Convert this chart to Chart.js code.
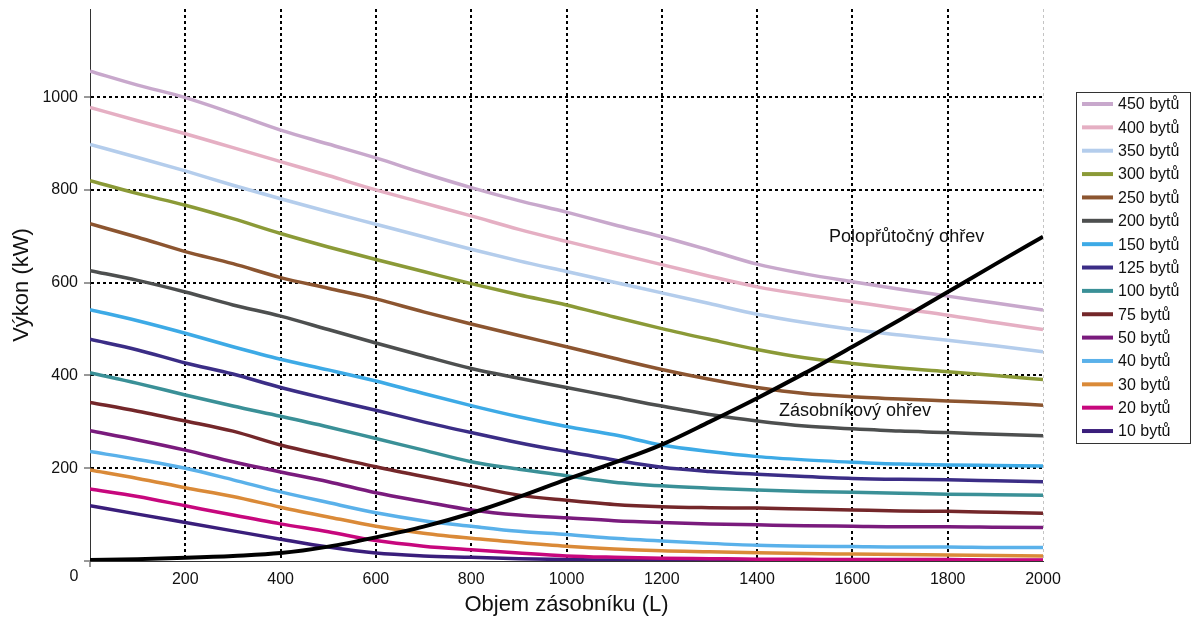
<!DOCTYPE html>
<html>
<head>
<meta charset="utf-8">
<title>Výkon vs objem zásobníku</title>
<script src="https://cdn.jsdelivr.net/npm/chart.js@4/dist/chart.umd.min.js"></script>
<style>
    html, body { margin: 0; padding: 0; background: #fff; }
    #chart { display: block; }
</style>
</head>
<body>
<canvas id="chart" width="1191" height="619"></canvas>
<script>
// objem zásobníku (L)
const volumes = [0, 100, 200, 300, 400, 500, 600, 700, 800, 900, 1000, 1100, 1200, 1300, 1400, 1500, 1600, 1700, 1800, 1900, 2000];
const xTicks = [0, 200, 400, 600, 800, 1000, 1200, 1400, 1600, 1800, 2000];
const yTicks = [0, 200, 400, 600, 800, 1000];

// výkon (kW) for each number of flats
const s450 = [1056, 1026, 999, 965, 929, 899, 869, 836, 805, 777, 752, 725, 699, 670, 640, 619, 602, 586, 571, 556, 541];
const s400 = [978, 949, 921, 891, 861, 831, 800, 772, 744, 715, 689, 664, 639, 614, 591, 574, 559, 544, 530, 514, 499];
const s350 = [898, 870, 841, 810, 781, 753, 726, 699, 672, 647, 624, 601, 578, 555, 532, 514, 499, 487, 476, 464, 451];
const s300 = [820, 792, 767, 738, 706, 677, 650, 624, 598, 574, 552, 526, 501, 478, 456, 438, 426, 416, 408, 400, 391];
const s250 = [727, 698, 667, 641, 611, 588, 565, 537, 511, 486, 462, 437, 413, 392, 374, 361, 354, 349, 345, 341, 336];
const s200 = [626, 605, 580, 552, 528, 499, 470, 442, 415, 394, 374, 354, 334, 316, 302, 291, 285, 280, 277, 273, 270];
const s150 = [542, 518, 491, 462, 435, 412, 388, 361, 335, 311, 290, 272, 250, 236, 225, 218, 213, 209, 207, 206, 205];
const s125 = [478, 455, 427, 403, 374, 349, 325, 300, 277, 255, 236, 218, 202, 193, 187, 182, 178, 176, 175, 173, 171];
const s100 = [406, 383, 358, 334, 312, 289, 264, 239, 214, 198, 184, 170, 162, 157, 153, 150, 148, 146, 144, 143, 142];
const s75 = [342, 323, 302, 280, 250, 226, 203, 182, 162, 142, 131, 122, 117, 115, 114, 112, 110, 108, 107, 105, 103];
const s50 = [281, 261, 239, 214, 192, 171, 147, 128, 110, 99, 93, 87, 83, 80, 78, 76, 75, 74, 74, 73, 72];
const s40 = [236, 219, 200, 175, 149, 126, 104, 87, 75, 64, 57, 49, 43, 38, 34, 32, 31, 30, 30, 29, 29];
const s30 = [196, 178, 158, 139, 116, 95, 75, 60, 49, 40, 32, 26, 22, 20, 18, 16, 15, 14, 13, 12, 11];
const s20 = [155, 139, 119, 99, 80, 63, 44, 32, 24, 17, 11, 8, 6, 5, 4, 4, 3, 3, 3, 2, 2];
const s10 = [119, 101, 83, 65, 47, 30, 17, 11, 8, 5, 3, 2, 1, 1, 1, 1, 1, 1, 1, 1, 1];
// black curve (point where the two heating modes meet)
const boundary = [2, 4, 7, 11, 17, 31, 51, 74, 103, 138, 176, 212, 251, 300, 351, 405, 462, 520, 580, 640, 699];

const seriesLabels = ['450 bytů', '400 bytů', '350 bytů', '300 bytů', '250 bytů', '200 bytů', '150 bytů', '125 bytů',
    '100 bytů', '75 bytů', '50 bytů', '40 bytů', '30 bytů', '20 bytů', '10 bytů'];
const seriesValues = [s450, s400, s350, s300, s250, s200, s150, s125, s100, s75, s50, s40, s30, s20, s10];
const seriesColors = ['#c8a8cc', '#e5afc3', '#b4cdec', '#8b9a37', '#8c5530', '#4d4f4f', '#3daae6', '#3b2d86',
    '#3a9097', '#74272a', '#7a1b7d', '#5ab1ea', '#da8a38', '#c7077d', '#3a1e7b'];

const notes = [
    { text: 'Polopřůtočný ohřev', x: 1551, y: 698 },
    { text: 'Zásobníkový ohřev', x: 1446, y: 323 },
];

const FONT = 'Liberation Sans, Arial, sans-serif';

const toPoints = (vals) => vals.map((v, i) => ({ x: volumes[i], y: v }));

const datasets = [{
    label: 'hranice',
    data: toPoints(boundary),
    borderColor: '#000',
    borderWidth: 4,
    pointRadius: 0,
    cubicInterpolationMode: 'monotone',
}];
seriesLabels.forEach((label, i) => {
    datasets.push({
        label,
        data: toPoints(seriesValues[i]),
        borderColor: seriesColors[i],
        borderWidth: 3.5,
        pointRadius: 0,
        cubicInterpolationMode: 'monotone',
    });
});

// legend box, notes and the lone "0" under the corner
const extras = {
    id: 'extras',
    afterDraw(chart) {
        const { ctx, scales } = chart;
        ctx.save();

        ctx.font = '16px ' + FONT;
        ctx.fillStyle = '#111';
        ctx.textBaseline = 'middle';
        ctx.textAlign = 'center';
        ctx.fillText('0', scales.x.left - 16, 577);

        ctx.font = '18px ' + FONT;
        ctx.textAlign = 'left';
        notes.forEach(n => {
            ctx.fillText(n.text, scales.x.getPixelForValue(n.x), scales.y.getPixelForValue(n.y));
        });

        const lx = 1076, ly = 92, lw = 114, lh = 351;
        ctx.strokeStyle = '#333';
        ctx.lineWidth = 1;
        ctx.strokeRect(lx + 0.5, ly + 0.5, lw, lh);
        ctx.font = '16px ' + FONT;
        seriesLabels.forEach((label, i) => {
            const y = 104 + i * 23.36;
            ctx.strokeStyle = seriesColors[i];
            ctx.lineWidth = 4;
            ctx.beginPath();
            ctx.moveTo(1082, y);
            ctx.lineTo(1113, y);
            ctx.stroke();
            ctx.fillStyle = '#111';
            ctx.fillText(label, 1118, y + 1);
        });
        ctx.restore();
    },
};

new Chart(document.getElementById('chart'), {
    type: 'line',
    data: { datasets },
    options: {
        responsive: false,
        animation: false,
        devicePixelRatio: 1,
        layout: { padding: { top: 9, right: 148, left: 0, bottom: 0 } },
        plugins: { legend: { display: false }, tooltip: { enabled: false } },
        scales: {
            x: {
                type: 'linear',
                min: 0,
                max: 2000,
                afterBuildTicks: (scale) => { scale.ticks = xTicks.map(v => ({ value: v })); },
                afterFit: (scale) => { scale.height = 58; },
                border: { display: true, color: '#333', width: 1, dash: [3, 3] },
                grid: {
                    color: (c) => c.tick.value === 0 ? 'rgba(0,0,0,0)' : (c.tick.value === 2000 ? '#c4c4c4' : '#000'),
                    lineWidth: (c) => c.tick.value === 2000 ? 1 : 2,
                    tickLength: 6,
                    tickColor: (c) => c.tick.value === 0 ? '#333' : 'rgba(0,0,0,0)',
                    tickBorderDash: [],
                    tickWidth: 1,
                },
                ticks: {
                    color: '#111',
                    padding: 3,
                    maxRotation: 0,
                    font: { family: FONT, size: 16 },
                    callback: (v) => v === 0 ? '' : String(v),
                },
                title: {
                    display: true,
                    text: 'Objem zásobníku (L)',
                    color: '#111',
                    font: { family: FONT, size: 22 },
                    padding: { top: 0, bottom: 1 },
                },
            },
            y: {
                min: 0,
                max: 1190,
                afterBuildTicks: (scale) => { scale.ticks = yTicks.map(v => ({ value: v })); },
                afterFit: (scale) => {
                    scale.width = 90;
                    scale.paddingTop = 0;
                },
                border: { display: true, color: '#333', width: 1, dash: [3, 3] },
                grid: {
                    color: (c) => c.tick.value === 0 ? 'rgba(0,0,0,0)' : '#000',
                    lineWidth: 2,
                    tickLength: 6,
                    tickColor: '#333',
                    tickBorderDash: [],
                    tickWidth: 1,
                },
                ticks: {
                    color: '#111',
                    padding: 6,
                    font: { family: FONT, size: 16 },
                    callback: (v) => v === 0 ? '' : String(v),
                },
                title: {
                    display: true,
                    text: 'Výkon (kW)',
                    color: '#111',
                    font: { family: FONT, size: 22 },
                    padding: { top: 9, bottom: 0 },
                },
            },
        },
    },
    plugins: [extras],
});
</script>
</body>
</html>
